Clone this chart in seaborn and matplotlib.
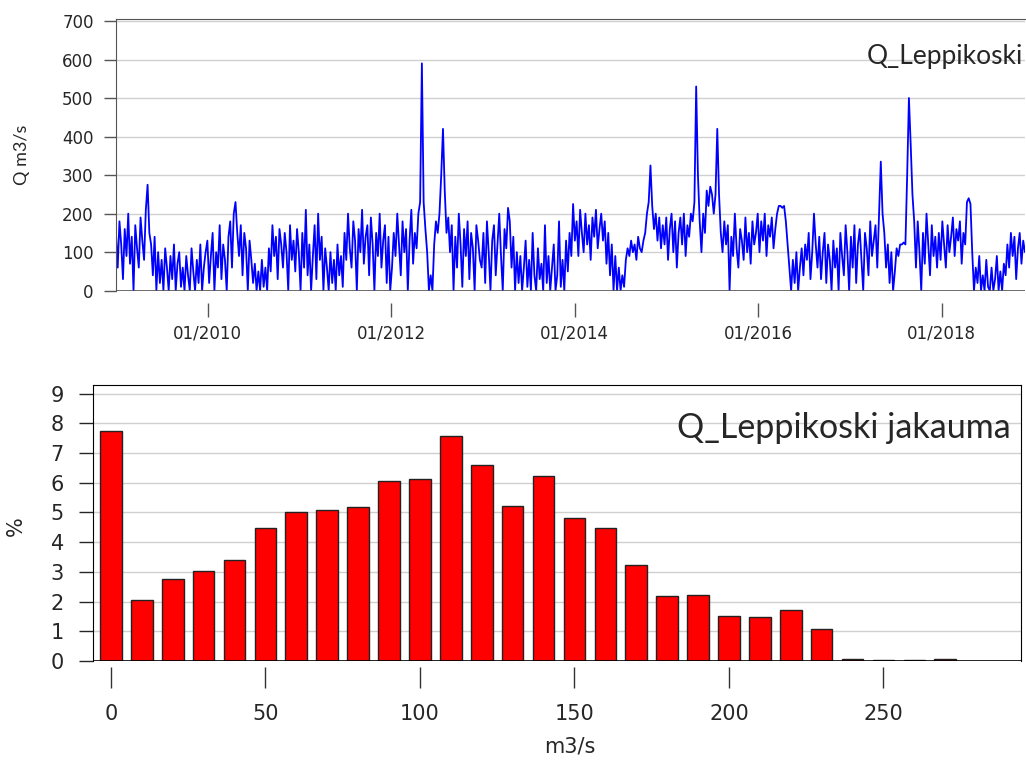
"""
Leppikoski: virtaama-aikasarja ja virtaaman jakauma
"""

import matplotlib.dates as mdates
import matplotlib.pyplot as plt
import numpy as np
import pandas as pd
import seaborn as sns

sns.set_style("white")
plt.rcParams["font.family"] = ["DejaVu Sans"]

# ============================================
# DATA: viikkovirtaamat (m3/s), luettu kuvasta vuosittain
# ============================================
q_2009 = [150, 60, 180, 120, 30, 160, 90, 200, 70, 140, 0, 170, 110, 60, 190, 130, 80,
          210, 275, 150, 120, 40, 140, 0,
          100, 20, 80, 0, 110, 60, 0, 90, 30, 120, 0, 70, 100, 10, 60, 0, 90, 40, 0,
          110, 50, 0, 80, 20, 120, 0, 60, 100]
q_2010 = [130, 20, 90, 150, 0, 100, 60, 170, 30, 120, 80, 0, 140,
          180, 60, 200, 230, 150, 90, 170,
          40, 150, 110, 0, 130, 80,
          20, 70, 0, 50, 0, 80, 10, 60, 0,
          110, 50, 170, 90, 140, 30, 160, 120, 60, 150, 100, 0, 170, 80, 130, 50, 160]
q_2011 = [100, 0, 150, 60, 210, 40, 120, 0, 90, 170, 30, 200, 80, 140, 0, 110,
          60, 0, 100, 20, 80, 0, 120, 40, 90, 10,
          150, 80, 200, 110, 60, 180, 130, 0, 160, 100, 210, 70, 140, 170, 40, 190,
          120, 0, 150, 90, 200, 60, 130, 170, 20, 140]
q_2012 = [0, 60, 150, 90, 200, 120, 40, 180, 100, 160, 0, 130, 210, 70, 150, 110,
          200, 230, 590, 230, 160, 100, 0, 40, 0, 120, 180, 150, 200, 300, 420, 260,
          150, 190, 100,
          170, 0, 140, 60, 200, 120, 10, 160, 90, 180, 30, 150, 110, 0, 170, 130, 80]
q_2013 = [60, 150, 20, 180, 100, 0, 130, 170, 40, 120, 200, 90, 0, 160, 110, 215,
          180, 60, 140, 0, 100,
          20, 90, 0, 60, 130, 10, 80, 0, 150, 40, 0, 110, 30, 70, 0, 170, 20, 90, 0,
          60, 120, 0, 40, 180, 10, 80, 0, 130, 50,
          150, 90]
q_2014 = [225, 130, 180, 90, 210, 150, 100, 200, 120, 170, 80, 190, 140, 210, 110,
          160, 200, 130, 180,
          70, 150, 40, 120, 0, 90,
          0, 60, 0, 40, 10, 80,
          110, 90, 130, 100, 120, 80, 140, 110, 100, 130, 150,
          200, 230, 325, 220,
          160, 200, 130, 190, 110, 170]
q_2015 = [120, 190, 80, 160, 200, 100, 180, 60, 150, 190, 120, 200, 90, 170, 140,
          200, 180,
          230, 530, 300, 180, 100, 200, 150, 260, 220, 270, 250, 200, 250, 420, 250,
          150, 100, 180,
          120, 170, 0, 140, 90, 200, 110, 60, 160, 130, 80, 190, 100, 150, 70, 180, 120]
q_2016 = [150, 200, 100, 180, 130, 200, 90, 170, 140, 190, 110, 160, 200,
          220, 220, 215, 220, 180,
          120, 60,
          0, 80, 20, 100, 0, 60, 110,
          40, 120, 80, 150, 30, 100,
          200, 120,
          60, 140, 30, 100, 150, 20, 120, 80, 0, 130, 60, 110, 0, 150, 90, 40, 170]
q_2017 = [100, 0, 140, 60, 170, 20, 120, 160, 80, 0, 150, 110, 40, 180, 90, 130, 170, 60,
          200, 335, 200, 150,
          60, 120, 20, 100, 0, 50, 110, 90, 120,
          120, 125, 120, 300, 500, 380, 250, 180,
          60, 180, 100, 0, 150, 70, 200, 120, 40, 170, 90, 140, 60]
q_2018 = [150, 80, 180, 120, 60, 170, 100, 140, 190, 90, 160, 130, 180, 70, 150, 120,
          230, 240, 225,
          100, 0, 60, 20, 90, 0, 40, 0, 80, 10, 0, 60, 0, 30, 90, 0, 50, 0, 70,
          40, 120, 60, 150, 90, 140, 30, 110, 150, 70, 130, 100]

# Jakauma: luokat (m3/s) ja osuus (%)
luokat = [0, 10, 20, 30, 40, 50, 60, 70, 80, 90, 100, 110, 120, 130,
          140, 150, 160, 170, 180, 190, 200, 210, 220, 230, 240, 250, 260, 270]
osuus = [7.75, 2.05, 2.75, 3.04, 3.41, 4.47, 5.0, 5.08, 5.17, 6.06, 6.12, 7.56, 6.59,
         5.23, 6.22, 4.81, 4.47, 3.24, 2.19, 2.21, 1.53, 1.47, 1.72, 1.07,
         0.05, 0.02, 0.02, 0.05]

virtaama = q_2009 + q_2010 + q_2011 + q_2012 + q_2013 + q_2014 + q_2015 + q_2016 + q_2017 + q_2018
pvm = pd.date_range("2009-01-01", periods=len(virtaama), freq="7D")
df_q = pd.DataFrame({"pvm": pvm, "q": virtaama})
df_j = pd.DataFrame({"luokka": luokat, "osuus": osuus})

fig = plt.figure(figsize=(10.26, 7.65), dpi=100)

# ============================================
# KUVA 1: aikasarja
# ============================================
ax1 = fig.add_axes([0.113, 0.620, 0.886, 0.3556])
sns.lineplot(data=df_q, x="pvm", y="q", color="#0000ff", linewidth=1.3, ax=ax1)
ax1.set_ylim(0, 706)
ax1.set_xlim(pvm[0], pvm[-1])
ax1.set_yticks(np.arange(0, 701, 100))
ax1.yaxis.grid(True, color="#d0d0d0", linewidth=1)
ax1.xaxis.set_major_locator(mdates.YearLocator(2))
ax1.xaxis.set_major_formatter(mdates.DateFormatter("%m/%Y"))
for s in ["left", "top"]:
    ax1.spines[s].set_color("#555555")
ax1.spines["right"].set_visible(False)
ax1.spines["bottom"].set_position(("outward", 9))
ax1.spines["bottom"].set_visible(False)
ax1.axhline(0, color="#555555", linewidth=1.2)
ax1.tick_params(axis="y", direction="out", length=9, width=1, color="#555555",
                labelsize=12, pad=7, left=True)
ax1.tick_params(axis="x", direction="out", length=10, width=1, color="#555555",
                labelsize=12, pad=5, bottom=True)
ax1.set_xlabel("")
ax1.set_ylabel("Q m3/s", fontsize=13, family="Lato")
ax1.yaxis.set_label_coords(-0.095, 0.5)
ax1.text(0.998, 0.86, "Q_Leppikoski", transform=ax1.transAxes, ha="right",
         va="center", fontsize=19, family="Lato")

# ============================================
# KUVA 2: jakauma
# ============================================
ax2 = fig.add_axes([0.0906, 0.136, 0.9045, 0.361])
sns.barplot(data=df_j, x="luokka", y="osuus", native_scale=True, width=0.7,
            color="#ff0000", edgecolor="#222222", linewidth=1, saturation=1, ax=ax2)
ax2.set_xlim(-5.8, 294.5)
ax2.set_ylim(0, 9.3)
ax2.set_yticks(range(0, 10))
ax2.set_xticks([0, 50, 100, 150, 200, 250])
ax2.set_axisbelow(True)
ax2.yaxis.grid(True, color="#d0d0d0", linewidth=1)
for s in ["left", "top", "right"]:
    ax2.spines[s].set_color("black")
ax2.spines["bottom"].set_position(("outward", 4))
ax2.spines["bottom"].set_visible(False)
ax2.axhline(0, color="black", linewidth=1.2)
ax2.tick_params(axis="y", direction="out", length=10, width=1, labelsize=15,
                pad=11, left=True)
ax2.tick_params(axis="x", direction="out", length=15, width=1, color="#333333",
                labelsize=15, pad=12, bottom=True)
ax2.set_xlabel("m3/s", fontsize=15)
ax2.xaxis.set_label_coords(0.514, -0.275)
ax2.set_ylabel("%", fontsize=15)
ax2.yaxis.set_label_coords(-0.072, 0.49)
ax2.text(0.989, 0.845, "Q_Leppikoski jakauma", transform=ax2.transAxes, ha="right",
         va="center", fontsize=24.5, family="Lato")

plt.savefig("out.png", dpi=100)
plt.close()
